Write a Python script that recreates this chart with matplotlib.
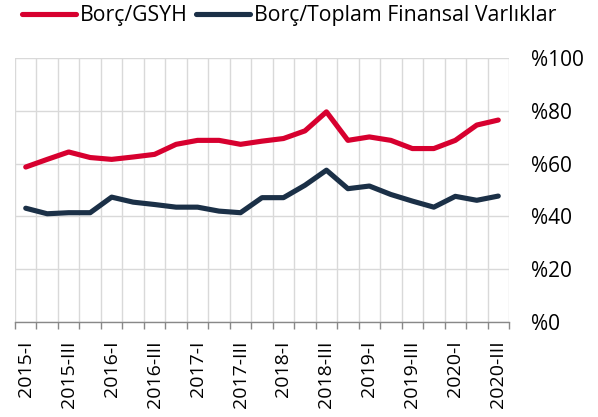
import matplotlib
matplotlib.use("Agg")
import matplotlib.pyplot as plt
import numpy as np

plt.rcParams['font.family'] = ['Open Sans', 'DejaVu Sans']

quarters = []
for yr in range(2015, 2021):
    for q in ["I", "II", "III", "IV"]:
        quarters.append(f"{yr}-{q}")
quarters = quarters[:23]

borc_gsyh = [58.7, 61.6, 64.4, 62.3, 61.6, 62.5, 63.5, 67.3, 68.8, 68.8, 67.3, 68.5,
             69.5, 72.4, 79.6, 68.8, 70.1, 68.8, 65.7, 65.7, 68.8, 74.6, 76.5]
borc_varlik = [43.1, 41.0, 41.4, 41.4, 47.3, 45.4, 44.5, 43.5, 43.5, 42.0, 41.4, 47.1,
               47.1, 51.8, 57.5, 50.5, 51.5, 48.3, 45.8, 43.5, 47.6, 46.1, 47.7]
series_names = ["Borç/GSYH", "Borç/Toplam Finansal Varlıklar"]
colors = ["#d7002f", "#1b3047"]
y_ticks = [0, 20, 40, 60, 80, 100]

fig = plt.figure(figsize=(5.98, 4.17), dpi=100)
ax = fig.add_axes([15/598, 1-322/417, (509-15)/598, (322-58)/417])

x = np.arange(len(quarters))
ax.plot(x, borc_gsyh, color=colors[0], lw=3.7, solid_capstyle='round', solid_joinstyle='round', label=series_names[0], zorder=3)
ax.plot(x, borc_varlik, color=colors[1], lw=3.7, solid_capstyle='round', solid_joinstyle='round', label=series_names[1], zorder=3)

ax.set_xlim(-0.5, len(quarters)-0.5)
ax.set_ylim(0, 100)

ax.set_xticks(x[::2])
ax.set_xticklabels(quarters[::2], rotation=90, fontsize=14)
ax.set_xticks(np.arange(-0.5, len(quarters)), minor=True)
ax.tick_params(axis='x', which='major', length=0, pad=13)
ax.tick_params(axis='x', which='minor', length=5, color='#888888', width=1)
ax.grid(axis='x', which='minor', color='#d9d9d9', lw=1)

ax.set_yticks(y_ticks)
ax.set_yticklabels([f"%{v}" for v in y_ticks], fontsize=15)
ax.yaxis.tick_right()
ax.tick_params(axis='y', length=0, pad=16)
ax.grid(axis='y', which='major', color='#d9d9d9', lw=1)

for s in ['top', 'left', 'right']:
    ax.spines[s].set_visible(False)
ax.spines['bottom'].set_color('#888888')
ax.spines['bottom'].set_linewidth(1)
ax.set_axisbelow(True)

fig.legend(loc='center left', bbox_to_anchor=(0.036, 0.962), ncol=2, frameon=False,
           fontsize=15.3, handlelength=2.55, handletextpad=0.19, columnspacing=0.38,
           borderpad=0, borderaxespad=0)

fig.savefig("out.png", dpi=100)
